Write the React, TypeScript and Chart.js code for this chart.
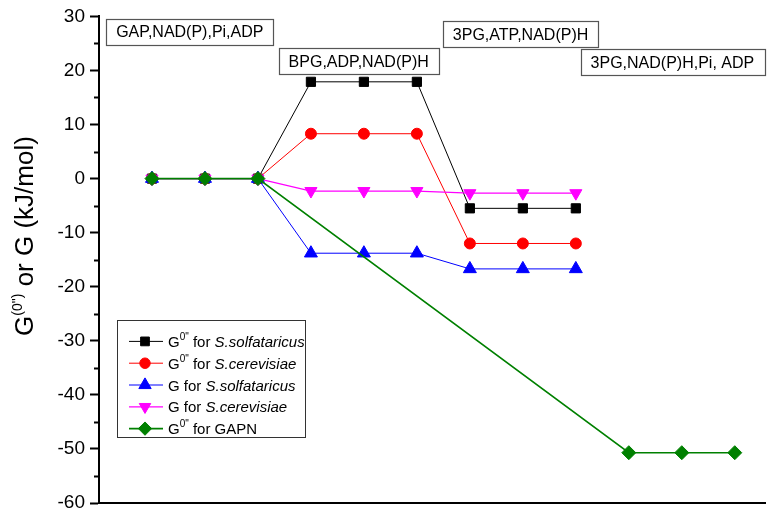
import { useEffect, useRef } from "react";
import { Chart, registerables } from "chart.js";
import { drawPoint } from "chart.js/helpers";

Chart.register(...registerables);

// ---- data ----
const stepX = [1, 2, 3, 4, 5, 6, 7, 8, 9];
const gapnX = [1, 2, 3, 10, 11, 12];
const solfG0 = [0, 0, 0, 17.9, 17.9, 17.9, -5.5, -5.5, -5.5];
const cereG0 = [0, 0, 0, 8.3, 8.3, 8.3, -12.0, -12.0, -12.0];
const solfG = [0, 0, 0, -13.8, -13.8, -13.8, -16.7, -16.7, -16.7];
const cereG = [0, 0, 0, -2.3, -2.3, -2.3, -2.7, -2.7, -2.7];
const gapnG0 = [0, 0, 0, -50.7, -50.7, -50.7];

const yMin = -60;
const yMax = 30;
const yStep = 10;

const seriesSup = ['0"', '0"', "", "", '0"'];
const seriesOrganism = ["S.solfataricus", "S.cerevisiae", "S.solfataricus", "S.cerevisiae", "GAPN"];
const seriesItalic = [true, true, true, true, false];
const stageLabels = ["GAP,NAD(P),Pi,ADP", "BPG,ADP,NAD(P)H", "3PG,ATP,NAD(P)H", "3PG,NAD(P)H,Pi, ADP"];
const yTitleMain = "G";
const yTitleSup = '(0")';
const yTitleRest = " or G (kJ/mol)";

const FONT = "'Liberation Sans', Arial, Helvetica, sans-serif";

// anchors of the stage boxes (data coordinates: left, top)
const stageAnchors = [
  { x: 0.135, y: 29.6 },
  { x: 3.39, y: 24.1 },
  { x: 6.49, y: 29.1 },
  { x: 9.09, y: 23.9 },
];

type Seg = { text: string; size: number; italic?: boolean; dy?: number };

function segWidth(ctx: CanvasRenderingContext2D, segs: Seg[]) {
  let w = 0;
  for (const s of segs) {
    ctx.font = `${s.italic ? "italic " : ""}${s.size}px ${FONT}`;
    w += ctx.measureText(s.text).width;
  }
  return w;
}

function drawRich(ctx: CanvasRenderingContext2D, segs: Seg[], x: number, y: number) {
  let cx = x;
  ctx.textBaseline = "alphabetic";
  ctx.textAlign = "left";
  for (const s of segs) {
    ctx.font = `${s.italic ? "italic " : ""}${s.size}px ${FONT}`;
    ctx.fillText(s.text, cx, y + (s.dy || 0));
    cx += ctx.measureText(s.text).width;
  }
}

const overlayPlugin = {
  id: "overlay",
  afterDraw(chart: any) {
    const ctx: CanvasRenderingContext2D = chart.ctx;
    const xs = chart.scales.x;
    const ys = chart.scales.y;
    const area = chart.chartArea;
    ctx.save();

    // minor ticks
    ctx.strokeStyle = "#000";
    ctx.lineWidth = 2;
    for (let v = yMin + yStep / 2; v < yMax; v += yStep) {
      const py = Math.round(ys.getPixelForValue(v)) + 0.5;
      ctx.beginPath();
      ctx.moveTo(area.left - 5, py);
      ctx.lineTo(area.left, py);
      ctx.stroke();
    }

    // y title
    ctx.fillStyle = "#000";
    ctx.save();
    ctx.translate(33, 236);
    ctx.rotate(-Math.PI / 2);
    const tsegs: Seg[] = [
      { text: yTitleMain, size: 26 },
      { text: yTitleSup, size: 14, dy: -11 },
      { text: yTitleRest, size: 26 },
    ];
    const tw = segWidth(ctx, tsegs);
    drawRich(ctx, tsegs, -tw / 2, 0);
    ctx.restore();

    // stage boxes
    stageLabels.forEach((label, i) => {
      const a = stageAnchors[i];
      const bx = xs.getPixelForValue(a.x);
      const by = ys.getPixelForValue(a.y);
      ctx.font = `16px ${FONT}`;
      const w = ctx.measureText(label).width + 20;
      const h = 26;
      ctx.fillStyle = "#fff";
      ctx.fillRect(bx, by, w, h);
      ctx.strokeStyle = "#555";
      ctx.lineWidth = 1.2;
      ctx.strokeRect(Math.round(bx) + 0.5, Math.round(by) + 0.5, Math.round(w), h);
      ctx.fillStyle = "#000";
      ctx.textBaseline = "middle";
      ctx.textAlign = "left";
      ctx.fillText(label, bx + 10, by + h / 2 + 1);
    });

    // legend
    const lx = area.left + 18;
    const ly = area.top + 304;
    const lw = 188;
    const lh = 117;
    ctx.fillStyle = "#fff";
    ctx.fillRect(lx, ly, lw, lh);
    ctx.strokeStyle = "#333";
    ctx.lineWidth = 1;
    ctx.strokeRect(Math.round(lx) + 0.5, Math.round(ly) + 0.5, lw, lh);
    chart.data.datasets.forEach((ds: any, i: number) => {
      const ry = ly + 21 + i * 21.8;
      ctx.strokeStyle = ds.borderColor;
      ctx.lineWidth = ds.borderWidth;
      ctx.beginPath();
      ctx.moveTo(lx + 12, ry);
      ctx.lineTo(lx + 46, ry);
      ctx.stroke();
      ctx.fillStyle = ds.pointBackgroundColor;
      ctx.strokeStyle = ds.pointBorderColor;
      ctx.lineWidth = 1;
      drawPoint(
        ctx,
        { pointStyle: ds.pointStyle, rotation: ds.pointRotation || 0, radius: ds.pointRadius * 0.95, borderWidth: 1 },
        lx + 28,
        ry
      );
      ctx.fillStyle = "#000";
      const segs: Seg[] = [{ text: "G", size: 15 }];
      if (seriesSup[i]) segs.push({ text: seriesSup[i], size: 10, dy: -7 });
      segs.push({ text: " for ", size: 15 });
      segs.push({ text: seriesOrganism[i], size: 15, italic: seriesItalic[i] });
      drawRich(ctx, segs, lx + 51, ry + 5.5);
    });

    ctx.restore();
  },
};

function pts(xv: number[], yv: number[]) {
  return xv.map((x, i) => ({ x, y: yv[i] }));
}

export default function App() {
  const ref = useRef<HTMLCanvasElement | null>(null);
  useEffect(() => {
    document.body.style.margin = "0";
    document.body.style.overflow = "hidden";
    const canvas = ref.current!;
    const mk = (label: string, xv: number[], yv: number[], color: string, style: string, radius: number, order: number, width = 1, rotation = 0) => ({
      label,
      data: pts(xv, yv),
      borderColor: color,
      backgroundColor: color,
      pointBackgroundColor: color,
      pointBorderColor: color,
      pointBorderWidth: 1,
      borderWidth: width,
      pointStyle: style,
      pointRadius: radius,
      pointRotation: rotation,
      tension: 0,
      order,
    });
    const chart = new Chart(canvas, {
      type: "line",
      data: {
        datasets: [
          mk('G0" for S.solfataricus', stepX, solfG0, "#000000", "rect", 6.5, 5, 1),
          mk('G0" for S.cerevisiae', stepX, cereG0, "#ff0000", "circle", 5.5, 4, 1),
          mk("G for S.solfataricus", stepX, solfG, "#0000ff", "triangle", 7.5, 3, 1),
          mk("G for S.cerevisiae", stepX, cereG, "#ff00ff", "triangle", 7, 2, 1.3, 180),
          mk('G0" for GAPN', gapnX, gapnG0, "#008000", "rectRot", 7, 1, 1.6),
        ] as any,
      },
      options: {
        animation: false,
        responsive: false,
        layout: { padding: { top: 15, right: 6, bottom: 0, left: 0 } },
        plugins: { legend: { display: false }, tooltip: { enabled: false } },
        scales: {
          x: {
            type: "linear",
            min: 0,
            max: 12.58,
            ticks: { display: false },
            grid: { display: false },
            border: { display: true, color: "#000", width: 2 },
            afterFit: (s: any) => {
              s.height = 19;
            },
          },
          y: {
            type: "linear",
            min: yMin,
            max: yMax,
            ticks: {
              stepSize: yStep,
              color: "#000",
              padding: 5,
              font: { family: FONT, size: 19 },
            },
            grid: { display: true, drawOnChartArea: false, drawTicks: true, tickLength: 9, tickWidth: 2, tickColor: "#000" },
            border: { display: true, color: "#000", width: 2 },
            afterFit: (s: any) => {
              s.width = 99;
            },
          },
        },
      },
      plugins: [overlayPlugin],
    });
    return () => chart.destroy();
  }, []);
  return <canvas ref={ref} width={774} height={522} style={{ display: "block" }} />;
}
